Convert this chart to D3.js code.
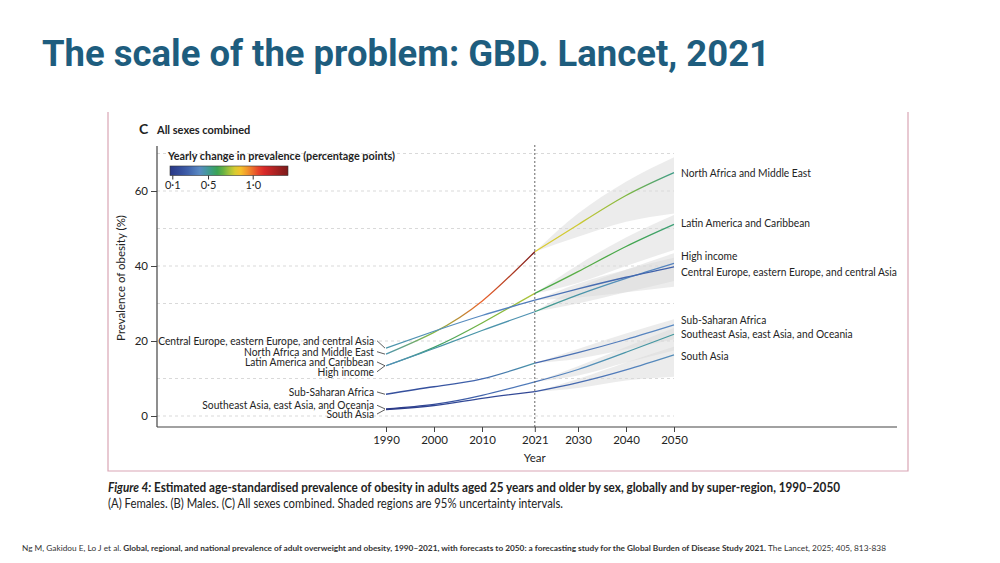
<!DOCTYPE html>
<html>
<head>
<meta charset="utf-8">
<script src="https://cdn.jsdelivr.net/npm/d3@7"></script>
<style>
  body { margin: 0; background: #fff; }
  svg { display: block; }
  text { font-family: Lato, "Open Sans", sans-serif; fill: #232323; }
</style>
</head>
<body>
<div id="chart"></div>
<script>
// years of the estimates, 2021 is the last observed year
const years = [1990, 2000, 2010, 2021, 2030, 2040, 2050]
const forecastYears = [2021, 2030, 2040, 2050]

const regions = [
  "North Africa and Middle East",
  "Latin America and Caribbean",
  "High income",
  "Central Europe, eastern Europe, and central Asia",
  "Sub-Saharan Africa",
  "Southeast Asia, east Asia, and Oceania",
  "South Asia"
]

// prevalence of obesity (%), all sexes combined
const northAfrica   = [16.5, 22.3, 30.6, 43.8, 51.0, 58.8, 64.9]
const latinAmerica  = [13.4, 18.3, 24.8, 32.7, 38.5, 45.2, 51.1]
const highIncome    = [13.4, 18.0, 22.8, 27.8, 32.3, 36.7, 40.7]
const centralEurope = [18.1, 22.6, 26.8, 30.9, 33.9, 37.0, 39.8]
const subSaharan    = [5.8, 7.8, 9.9, 14.1, 16.9, 20.4, 24.3]
const southeastAsia = [1.9, 3.1, 5.5, 9.1, 12.4, 17.0, 21.8]
const southAsia     = [1.7, 2.8, 4.7, 6.5, 8.9, 12.3, 16.3]

// 95% uncertainty intervals of the forecasts (2021-2050)
const northAfricaLower   = [43.8, 47.8, 51.8, 54.0]
const northAfricaUpper   = [43.8, 54.0, 62.5, 69.0]
const latinAmericaLower  = [32.7, 35.5, 40.0, 44.3]
const latinAmericaUpper  = [32.7, 40.3, 47.6, 53.6]
const highIncomeLower    = [27.8, 30.0, 33.0, 36.0]
const highIncomeUpper    = [27.8, 34.2, 39.0, 43.4]
const centralEuropeLower = [30.9, 31.6, 33.0, 34.5]
const centralEuropeUpper = [30.9, 35.3, 39.0, 42.2]
const subSaharanLower    = [14.1, 15.3, 17.8, 20.5]
const subSaharanUpper    = [14.1, 17.9, 22.0, 25.8]
const southeastAsiaLower = [9.1, 10.8, 14.3, 17.5]
const southeastAsiaUpper = [9.1, 13.3, 18.4, 23.5]
const southAsiaLower     = [6.5, 7.5, 9.5, 10.5]
const southAsiaUpper     = [6.5, 9.9, 14.3, 18.5]

const yTicks = [0, 20, 40, 60]
const gridValues = [0, 10, 20, 30, 40, 50, 60, 70]
const legendTicks = [0.1, 0.5, 1.0]

// colour ramp of the yearly change (percentage points)
const rampValues = [0.07, 0.25, 0.41, 0.5, 0.62, 0.74, 0.84, 0.93, 1.1, 1.38]
const rampColors = ["#2a3785", "#3a59a6", "#5b8cc4", "#3f9a98", "#3aa54a", "#a6c23a", "#f6d02c", "#f29b2c", "#e32b2b", "#7e1b1b"]

const title = "The scale of the problem: GBD. Lancet, 2021"

const values = [northAfrica, latinAmerica, highIncome, centralEurope, subSaharan, southeastAsia, southAsia]
const lowers = [northAfricaLower, latinAmericaLower, highIncomeLower, centralEuropeLower, subSaharanLower, southeastAsiaLower, southAsiaLower]
const uppers = [northAfricaUpper, latinAmericaUpper, highIncomeUpper, centralEuropeUpper, subSaharanUpper, southeastAsiaUpper, southAsiaUpper]

// label nudges in pixels (left end labels and right end labels)
const leftNudge = [-2.4, -3.8, 6, -7.4, -2.3, -3.6, 4.4]
const rightNudge = [0, -1, -7, 5, -5, 0, 0.8]

const series = regions.map((name, i) => ({
  name,
  values: years.map((year, j) => ({ year, value: values[i][j] })),
  band: forecastYears.map((year, j) => ({ year, lo: lowers[i][j], hi: uppers[i][j] })),
  leftNudge: leftNudge[i],
  rightNudge: rightNudge[i]
}))

const width = 1000, height = 563
const plot = { left: 157, top: 146, bottom: 427, axisEnd: 897 }

const svg = d3.select("#chart").append("svg")
  .attr("width", width)
  .attr("height", height)

svg.append("rect").attr("width", width).attr("height", height).attr("fill", "#fff")

const fit = (sel, w) => sel.attr("textLength", w).attr("lengthAdjust", "spacingAndGlyphs")

// slide title
svg.append("text")
  .attr("x", 42).attr("y", 66)
  .style("font-family", "Roboto, sans-serif")
  .style("font-weight", 700)
  .style("font-size", "36px")
  .style("fill", "#1e5d7e")
  .text(title)
  .call(fit, 728)

// pink frame of the figure
svg.append("path")
  .attr("d", "M108,112V471H908V112")
  .attr("fill", "none")
  .attr("stroke", "#d9a6b5")
  .attr("stroke-width", 1.2)

const x = d3.scaleLinear()
  .domain([1990, 2050])
  .range([386, 674])

const y = d3.scaleLinear()
  .domain([0, 60])
  .range([416, 191])

const color = d3.scaleLinear()
  .domain(rampValues)
  .range(rampColors)
  .clamp(true)

const defs = svg.append("defs")

// panel heading
svg.append("text").attr("x", 139).attr("y", 134)
  .style("font-size", "14px").style("font-weight", 700).text("C")
svg.append("text").attr("x", 157).attr("y", 134)
  .style("font-size", "11px").style("font-weight", 700).text("All sexes combined")

// grid lines
svg.append("g")
  .selectAll("line")
  .data(gridValues)
  .enter().append("line")
    .attr("x1", plot.left).attr("x2", x(2050))
    .attr("y1", d => y(d)).attr("y2", d => y(d))
    .attr("stroke", "#cfcfcf")
    .attr("stroke-width", 0.8)
    .attr("stroke-dasharray", "3,3")

// uncertainty bands
const area = d3.area()
  .x(d => x(d.year))
  .y0(d => y(d.lo))
  .y1(d => y(d.hi))
  .curve(d3.curveMonotoneX)

svg.append("g")
  .selectAll("path")
  .data(series)
  .enter().append("path")
    .attr("d", d => area(d.band))
    .attr("fill", "#d9d9d9")
    .attr("fill-opacity", 0.5)

// slope at each point, from the neighbouring segments
const pointSlopes = function(pts) {
  const s = d3.pairs(pts).map(([a, b]) => (b.value - a.value) / (b.year - a.year))
  const n = pts.length
  return pts.map((p, i) => {
    if (i === 0) return 1.5 * s[0] - 0.5 * s[1]
    if (i === n - 1) return 1.5 * s[n - 2] - 0.5 * s[n - 3]
    return (s[i - 1] + s[i]) / 2
  })
}

const x0 = x(1990), x1 = x(2050)
series.forEach((d, i) => {
  d.hist = d.values.filter(v => v.year <= 2021)
  d.fc = d.values.filter(v => v.year >= 2021)
  const stops = []
  pointSlopes(d.hist).forEach((s, j) => stops.push({ year: d.hist[j].year, s }))
  pointSlopes(d.fc).forEach((s, j) => stops.push({ year: d.fc[j].year, s }))
  const g = defs.append("linearGradient")
    .attr("id", "grad" + i)
    .attr("gradientUnits", "userSpaceOnUse")
    .attr("x1", x0).attr("x2", x1).attr("y1", 0).attr("y2", 0)
  g.selectAll("stop")
    .data(stops)
    .enter().append("stop")
      .attr("offset", s => (x(s.year) - x0) / (x1 - x0))
      .attr("stop-color", s => color(s.s))
})

const line = d3.line()
  .x(d => x(d.year))
  .y(d => y(d.value))
  .curve(d3.curveNatural)

// estimates and forecasts drawn as two pieces, meeting at 2021
const lines = svg.append("g")
series.forEach((d, i) => {
  lines.selectAll(null)
    .data([d.hist, d.fc])
    .enter().append("path")
      .attr("d", line)
      .attr("fill", "none")
      .attr("stroke", `url(#grad${i})`)
      .attr("stroke-width", 1.3)
})

// 2021 marker
svg.append("line")
  .attr("x1", x(2021)).attr("x2", x(2021))
  .attr("y1", 145).attr("y2", plot.bottom)
  .attr("stroke", "#555")
  .attr("stroke-width", 0.9)
  .attr("stroke-dasharray", "2,2")

// axes
const gy = svg.append("g")
  .attr("transform", `translate(${plot.left},0)`)
  .call(d3.axisLeft(y).tickValues(yTicks).tickSize(6).tickPadding(3))
gy.select(".domain").remove()
gy.append("line").attr("y1", plot.top).attr("y2", plot.bottom).attr("stroke", "#444").attr("stroke-width", 1.2)
gy.selectAll(".tick line").attr("stroke", "#444")
gy.selectAll(".tick text").style("font-size", "11.5px").attr("fill", "#333")

const gx = svg.append("g")
  .attr("transform", `translate(0,${plot.bottom})`)
  .call(d3.axisBottom(x).tickValues(years).tickFormat(d3.format("d")).tickSize(5).tickPadding(4))
gx.select(".domain").remove()
gx.append("line").attr("x1", plot.left).attr("x2", plot.axisEnd).attr("stroke", "#444").attr("stroke-width", 1.2)
gx.selectAll(".tick line").attr("stroke", "#444")
gx.selectAll(".tick text").style("font-size", "11.5px").attr("fill", "#333")

svg.append("text")
  .attr("x", x(2021)).attr("y", 462)
  .attr("text-anchor", "middle")
  .style("font-size", "11.5px")
  .text("Year")

svg.append("text")
  .attr("transform", "translate(125,278) rotate(-90)")
  .attr("text-anchor", "middle")
  .style("font-size", "11.5px")
  .text("Prevalence of obesity (%)")

// region labels at both ends
const labelK = 0.89
const condense = function(sel) {
  sel.each(function() {
    const w = this.getComputedTextLength()
    d3.select(this).call(fit, w * labelK)
  })
}

const leftLabels = svg.append("g")
series.forEach(d => {
  const ly = y(d.values[0].value) + d.leftNudge
  leftLabels.append("text")
    .attr("x", 374).attr("y", ly).attr("dy", "0.35em")
    .attr("text-anchor", "end")
    .style("font-size", "11.5px")
    .text(d.name)
    .call(condense)
  leftLabels.append("line")
    .attr("x1", 377).attr("y1", ly)
    .attr("x2", x(1990) - 1).attr("y2", y(d.values[0].value))
    .attr("stroke", "#333").attr("stroke-width", 0.8)
})

svg.append("g")
  .selectAll("text")
  .data(series)
  .enter().append("text")
    .attr("x", 681)
    .attr("y", d => y(d.values[d.values.length - 1].value) + d.rightNudge)
    .attr("dy", "0.35em")
    .style("font-size", "11.5px")
    .text(d => d.name)
    .call(condense)

// colour legend
const lx = d3.scaleLinear().domain([0.1, 1.0]).range([172.3, 252.7])
const barX0 = 170, barX1 = 288
const lg = defs.append("linearGradient")
  .attr("id", "legendGrad")
  .attr("gradientUnits", "userSpaceOnUse")
  .attr("x1", barX0).attr("x2", barX1).attr("y1", 0).attr("y2", 0)
lg.selectAll("stop")
  .data(d3.range(0, 1.0001, 0.05))
  .enter().append("stop")
    .attr("offset", t => t)
    .attr("stop-color", t => color(lx.invert(barX0 + t * (barX1 - barX0))))

const legend = svg.append("g")
legend.append("text")
  .attr("x", 168).attr("y", 160)
  .style("font-size", "11.5px")
  .style("font-weight", 700)
  .text("Yearly change in prevalence (percentage points)")
  .call(fit, 227)
legend.append("rect")
  .attr("x", barX0).attr("y", 166)
  .attr("width", barX1 - barX0).attr("height", 9.5)
  .attr("fill", "url(#legendGrad)")
  .attr("stroke", "#333").attr("stroke-width", 0.6)
legend.append("g")
  .attr("transform", "translate(0,175.5)")
  .call(d3.axisBottom(lx).tickValues(legendTicks).tickSize(4).tickPadding(2).tickFormat(d => d3.format(".1f")(d).replace(".", "·")))
  .call(g => g.select(".domain").remove())
  .call(g => g.selectAll(".tick line").attr("stroke", "#333"))
  .call(g => g.selectAll(".tick text").style("font-size", "11px").attr("fill", "#333"))

// figure caption
const cap = svg.append("text").attr("x", 108).attr("y", 492).style("font-size", "12.5px")
cap.append("tspan").style("font-style", "italic").style("font-weight", 700).text("Figure 4: ")
cap.append("tspan").style("font-weight", 700)
  .text("Estimated age-standardised prevalence of obesity in adults aged 25 years and older by sex, globally and by super-region, 1990–2050")
cap.call(fit, 732)

svg.append("text").attr("x", 108).attr("y", 508).style("font-size", "12.5px")
  .text("(A) Females. (B) Males. (C) All sexes combined. Shaded regions are 95% uncertainty intervals.")
  .call(fit, 455)

// reference
const ref = svg.append("text").attr("x", 22).attr("y", 551).style("font-size", "7px").style("fill", "#333")
ref.append("tspan").text("Ng M, Gakidou E, Lo J et al. ")
ref.append("tspan").style("font-weight", 700)
  .text("Global, regional, and national prevalence of adult overweight and obesity, 1990–2021, with forecasts to 2050: a forecasting study for the Global Burden of Disease Study 2021.")
ref.append("tspan").text(" The Lancet, 2025; 405, 813-838")
ref.call(fit, 864)
</script>
</body>
</html>
